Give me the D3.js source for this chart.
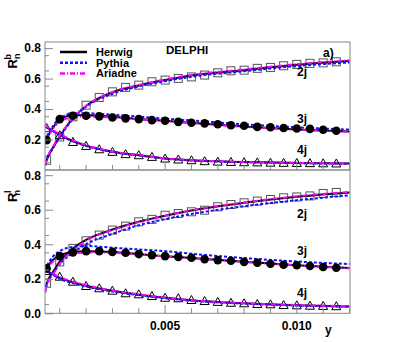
<!DOCTYPE html>
<html>
<head>
<meta charset="utf-8">
<script src="https://cdn.jsdelivr.net/npm/d3@7"></script>
<style>
  body { margin: 0; background: #fff; }
  text { font-family: "Liberation Sans", Arial, sans-serif; font-weight: bold; }
</style>
</head>
<body>
<div id="chart"></div>
<script>
// data points: y = 0.0005 * k, k = 1..23
const ptX = d3.range(1, 24).map(k => k * 0.0005);

const b2j = [0.064, 0.217, 0.349, 0.425, 0.476, 0.513, 0.542, 0.557, 0.579, 0.590, 0.601, 0.611, 0.623,
             0.638, 0.651, 0.655, 0.667, 0.673, 0.684, 0.693, 0.700, 0.703, 0.710];
const b3j = [0.196, 0.334, 0.356, 0.356, 0.352, 0.345, 0.339, 0.334, 0.327, 0.323, 0.316, 0.310, 0.306,
             0.300, 0.294, 0.290, 0.283, 0.281, 0.276, 0.272, 0.270, 0.264, 0.258];
const b4j = [0.276, 0.228, 0.184, 0.158, 0.136, 0.119, 0.104, 0.097, 0.086, 0.075, 0.069, 0.064, 0.058,
             0.055, 0.053, 0.051, 0.050, 0.048, 0.047, 0.046, 0.045, 0.044, 0.043];

const l2j = [0.174, 0.298, 0.376, 0.420, 0.453, 0.482, 0.505, 0.530, 0.544, 0.568, 0.578, 0.588, 0.597,
             0.617, 0.630, 0.640, 0.650, 0.659, 0.669, 0.674, 0.680, 0.694, 0.700];
const l3j = [0.260, 0.331, 0.353, 0.360, 0.360, 0.356, 0.351, 0.343, 0.337, 0.331, 0.327, 0.322, 0.314,
             0.308, 0.304, 0.298, 0.293, 0.287, 0.281, 0.278, 0.274, 0.268, 0.264];
const l4j = [0.245, 0.212, 0.183, 0.158, 0.145, 0.131, 0.116, 0.110, 0.100, 0.090, 0.087, 0.077, 0.071,
             0.066, 0.061, 0.058, 0.054, 0.052, 0.048, 0.046, 0.044, 0.043, 0.041];

// model curves
const mX = [0.00044, 0.0005, 0.00075, 0.001, 0.0015, 0.002, 0.003, 0.004, 0.005, 0.006, 0.008, 0.010, 0.012];

const herwigB2 = [0.03, 0.065, 0.15, 0.22, 0.34, 0.42, 0.51, 0.555, 0.59, 0.62, 0.655, 0.69, 0.715];
const herwigB3 = [0.185, 0.205, 0.28, 0.33, 0.36, 0.36, 0.35, 0.335, 0.323, 0.31, 0.285, 0.266, 0.252];
const herwigB4 = [0.285, 0.28, 0.255, 0.23, 0.19, 0.16, 0.12, 0.097, 0.076, 0.064, 0.052, 0.046, 0.042];
const pythiaB2 = [0.03, 0.06, 0.145, 0.215, 0.335, 0.415, 0.5, 0.548, 0.583, 0.612, 0.648, 0.682, 0.706];
const pythiaB3 = [0.19, 0.215, 0.29, 0.34, 0.37, 0.372, 0.363, 0.35, 0.337, 0.325, 0.3, 0.28, 0.265];
const pythiaB4 = [0.285, 0.28, 0.255, 0.228, 0.188, 0.158, 0.118, 0.095, 0.075, 0.063, 0.051, 0.045, 0.041];
const ariadneB2 = [0.035, 0.07, 0.155, 0.225, 0.342, 0.422, 0.512, 0.558, 0.594, 0.624, 0.66, 0.695, 0.72];
const ariadneB3 = [0.18, 0.2, 0.27, 0.32, 0.345, 0.35, 0.345, 0.332, 0.32, 0.308, 0.283, 0.264, 0.25];
const ariadneB4 = [0.29, 0.285, 0.26, 0.235, 0.195, 0.163, 0.122, 0.098, 0.077, 0.065, 0.053, 0.047, 0.043];

const herwigL2 = [0.13, 0.17, 0.24, 0.30, 0.375, 0.425, 0.485, 0.53, 0.565, 0.595, 0.64, 0.675, 0.70];
const herwigL3 = [0.24, 0.26, 0.31, 0.335, 0.355, 0.36, 0.355, 0.343, 0.331, 0.32, 0.298, 0.278, 0.262];
const herwigL4 = [0.25, 0.245, 0.225, 0.205, 0.18, 0.16, 0.13, 0.108, 0.09, 0.075, 0.058, 0.047, 0.04];
const pythiaL2 = [0.12, 0.16, 0.23, 0.285, 0.35, 0.40, 0.46, 0.51, 0.545, 0.575, 0.62, 0.655, 0.683];
const pythiaL3 = [0.25, 0.27, 0.33, 0.36, 0.385, 0.39, 0.38, 0.37, 0.36, 0.345, 0.32, 0.30, 0.285];
const pythiaL4 = [0.25, 0.243, 0.222, 0.2, 0.175, 0.155, 0.126, 0.105, 0.087, 0.073, 0.056, 0.045, 0.038];
const ariadneL2 = [0.12, 0.16, 0.225, 0.285, 0.365, 0.42, 0.482, 0.528, 0.565, 0.596, 0.642, 0.678, 0.703];
const ariadneL3 = [0.235, 0.255, 0.3, 0.325, 0.345, 0.352, 0.35, 0.34, 0.33, 0.319, 0.297, 0.277, 0.26];
const ariadneL4 = [0.255, 0.25, 0.23, 0.21, 0.184, 0.163, 0.132, 0.11, 0.091, 0.076, 0.059, 0.048, 0.041];

const xTicks = [0.005, 0.010];
const xTickLabels = ['0.005', '0.010'];
const yTicksTop = [0.2, 0.4, 0.6, 0.8];
const yTicksBot = [0.0, 0.2, 0.4, 0.6, 0.8];

const legendNames = ['Herwig', 'Pythia', 'Ariadne'];

const W = 411, H = 342;
const left = 45, right = 350;

const svg = d3.select('#chart').append('svg')
  .attr('width', W).attr('height', H);

const x = d3.scaleLinear().domain([0.00044, 0.01202]).range([left, right]);

const styles = {
  Herwig: { color: '#000', dash: null, width: 2 },
  Pythia: { color: '#1010ff', dash: '3,2', width: 2 },
  Ariadne: { color: '#ff00ff', dash: '5,2,1,2', width: 2 }
};

const line = y => d3.line()
  .x((d, i) => x(mX[i]))
  .y(d => y(d))
  .curve(d3.curveMonotoneX);

function panel(id, top, bottom, ymax, yTicks, pts, models, showXLabels) {
  const y = d3.scaleLinear().domain([0, ymax]).range([bottom, top]);

  svg.append('clipPath').attr('id', 'clip' + id)
    .append('rect').attr('x', left).attr('y', top).attr('width', right - left).attr('height', bottom - top);

  const g = svg.append('g');
  const gc = g.append('g').attr('clip-path', 'url(#clip' + id + ')');

  // open squares (2j)
  gc.selectAll('.sq').data(pts[0]).join('rect')
    .attr('x', (d, i) => x(ptX[i]) - 4).attr('y', d => y(d) - 4)
    .attr('width', 8).attr('height', 8)
    .attr('fill', 'none').attr('stroke', '#555').attr('stroke-width', 1);

  // open triangles (4j)
  gc.selectAll('.tri').data(pts[2]).join('path')
    .attr('d', (d, i) => {
      const cx = x(ptX[i]), cy = y(d);
      return `M${cx - 4.5},${cy + 3.5}L${cx + 4.5},${cy + 3.5}L${cx},${cy - 4.5}Z`;
    })
    .attr('fill', 'none').attr('stroke', '#000').attr('stroke-width', 1);

  // model lines
  models.forEach(m => {
    const s = styles[m.name];
    gc.append('path').datum(m.vals)
      .attr('d', line(y))
      .attr('fill', 'none')
      .attr('stroke', s.color)
      .attr('stroke-width', s.width)
      .attr('stroke-dasharray', s.dash);
  });

  // filled circles (3j)
  gc.selectAll('.circ').data(pts[1]).join('circle')
    .attr('cx', (d, i) => x(ptX[i])).attr('cy', d => y(d))
    .attr('r', 4.3).attr('fill', '#000');

  // frame
  g.append('rect').attr('x', left).attr('y', top)
    .attr('width', right - left).attr('height', bottom - top)
    .attr('fill', 'none').attr('stroke', '#888').attr('stroke-width', 1);

  // y axis: majors with labels, minors every 0.05
  const yAx = g.append('g').attr('transform', `translate(${left},0)`)
    .call(d3.axisLeft(y).tickValues(yTicks).tickSizeInner(-8).tickSizeOuter(0).tickPadding(4)
      .tickFormat(d3.format('.1f')));
  yAx.select('.domain').remove();
  yAx.selectAll('.tick line').attr('stroke', '#888');
  yAx.selectAll('.tick text').attr('font-size', 12).attr('fill', '#000')
    .attr('font-family', '"Liberation Sans", Arial, sans-serif').attr('font-weight', 'bold');

  const yMinor = d3.range(0, ymax, 0.05).filter(v => Math.abs(Math.round(v * 10) / 10 - v) > 0.01);
  g.selectAll('.ymin').data(yMinor).join('line')
    .attr('x1', left).attr('x2', left + 4)
    .attr('y1', d => y(d)).attr('y2', d => y(d))
    .attr('stroke', '#888');

  // x ticks every 0.001
  const xMinor = d3.range(1, 13).map(k => k * 0.001);
  g.selectAll('.xmin').data(xMinor).join('line')
    .attr('x1', d => x(d)).attr('x2', d => x(d))
    .attr('y1', bottom).attr('y2', d => xTicks.some(t => Math.abs(t - d) < 1e-6) ? bottom - 8 : bottom - 5)
    .attr('stroke', '#888');

  if (showXLabels) {
    g.selectAll('.xlab').data(xTicks).join('text')
      .attr('x', d => x(d)).attr('y', bottom + 17)
      .attr('text-anchor', 'middle').attr('font-size', 12)
      .text((d, i) => xTickLabels[i]);
  }
  return y;
}

const yTop = panel('t', 42, 170, 0.84, yTicksTop, [b2j, b3j, b4j], [
  { name: 'Herwig', vals: herwigB2 }, { name: 'Herwig', vals: herwigB3 }, { name: 'Herwig', vals: herwigB4 },
  { name: 'Pythia', vals: pythiaB2 }, { name: 'Pythia', vals: pythiaB3 }, { name: 'Pythia', vals: pythiaB4 },
  { name: 'Ariadne', vals: ariadneB2 }, { name: 'Ariadne', vals: ariadneB3 }, { name: 'Ariadne', vals: ariadneB4 }
], false);

const yBot = panel('b', 170, 313.3, 0.83, yTicksBot, [l2j, l3j, l4j], [
  { name: 'Herwig', vals: herwigL2 }, { name: 'Herwig', vals: herwigL3 }, { name: 'Herwig', vals: herwigL4 },
  { name: 'Pythia', vals: pythiaL2 }, { name: 'Pythia', vals: pythiaL3 }, { name: 'Pythia', vals: pythiaL4 },
  { name: 'Ariadne', vals: ariadneL2 }, { name: 'Ariadne', vals: ariadneL3 }, { name: 'Ariadne', vals: ariadneL4 }
], true);

// jet multiplicity labels
const jetLabels = ['2j', '3j', '4j'];
const jetTopY = [72 + 4, 119 + 4, 150 + 4];
const jetBotY = [214 + 4, 251 + 4, 293 + 4];
jetLabels.forEach((t, i) => {
  svg.append('text').attr('x', 297).attr('y', jetTopY[i]).attr('font-size', 12).text(t);
  svg.append('text').attr('x', 297).attr('y', jetBotY[i]).attr('font-size', 12).text(t);
});

// legend
const lg = svg.append('g');
legendNames.forEach((n, i) => {
  const s = styles[n];
  const ly = 52 + i * 10.7;
  lg.append('line').attr('x1', 60).attr('x2', 87).attr('y1', ly).attr('y2', ly)
    .attr('stroke', s.color).attr('stroke-width', 2.5).attr('stroke-dasharray', s.dash);
  lg.append('text').attr('x', 96).attr('y', ly + 4).attr('font-size', 11).text(n);
});

svg.append('text').attr('x', 166).attr('y', 54).attr('font-size', 11.5).text('DELPHI');
svg.append('text').attr('x', 323).attr('y', 57).attr('font-size', 12).text('a)');

// axis titles
function yTitle(cy, sup) {
  const t = svg.append('text')
    .attr('transform', `translate(17,${cy}) rotate(-90)`)
    .attr('text-anchor', 'middle').attr('font-size', 13);
  t.append('tspan').text('R');
  t.append('tspan').attr('font-size', 9).attr('dy', -6).attr('dx', -0.5).text(sup);
  t.append('tspan').attr('font-size', 9).attr('dy', 9).attr('dx', -5).text('n');
}
yTitle(61, 'b');
yTitle(196, 'l');

svg.append('text').attr('x', 325).attr('y', 334).attr('font-size', 12).text('y');
</script>
</body>
</html>
